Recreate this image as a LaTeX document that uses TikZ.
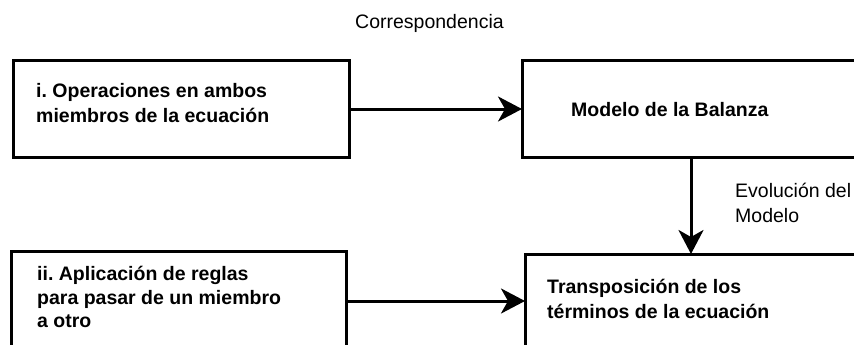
\documentclass[tikz,border=0pt]{standalone}
\usepackage{fontspec}
\setmainfont{Liberation Sans}
\usetikzlibrary{arrows.meta}
\frenchspacing
\begin{document}
\begin{tikzpicture}[x=1pt,y=-1pt,
  box/.style={draw=black,line width=3pt},
  conn/.style={line width=3pt,-{Stealth[length=24pt,width=25pt,inset=7pt]}},
  boldtxt/.style={font=\fontsize{19.5}{25}\selectfont\bfseries,align=left,inner sep=0pt,anchor=north west},
  regtxt/.style={font=\fontsize{19.5}{25}\selectfont,align=left,inner sep=0pt,anchor=north west}]
\useasboundingbox (0,0) rectangle (854,345);
\clip (0,0) rectangle (854,345);
% boxes
\draw[box] (13,61) rectangle (349,157);
\draw[box] (522,61) rectangle (880,157);
\draw[box] (11,251) rectangle (346,360);
\draw[box] (525,254) rectangle (880,360);
% anchors for connectors
\coordinate (b1e) at (349,109);
\coordinate (b2w) at (522,109);
\coordinate (b2s) at (691,157);
\coordinate (b4n) at (691,254);
\coordinate (b3e) at (346,301);
\coordinate (b4w) at (525,301);
% texts
\node[boldtxt] (t1) at (36,83) {i. Operaciones en ambos\\miembros de la ecuación};
\node[boldtxt] (t2) at (571,102) {Modelo de la Balanza};
\node[boldtxt,font=\fontsize{19.5}{23.5}\selectfont\bfseries] (t3) at (37,266) {ii. Aplicación de reglas\\para pasar de un miembro\\a otro};
\node[boldtxt] (t4) at (547,279) {Transposición de los\\términos de la ecuación};
\node[regtxt] (t5) at (735,183) {Evolución del\\Modelo};
\node[regtxt] (t6) at (355,14) {Correspondencia};
% connectors
\draw[conn] (b1e) -- (b2w);
\draw[conn] (b3e) -- (b4w);
\draw[conn] (b2s) -- (b4n);
\end{tikzpicture}
\end{document}
